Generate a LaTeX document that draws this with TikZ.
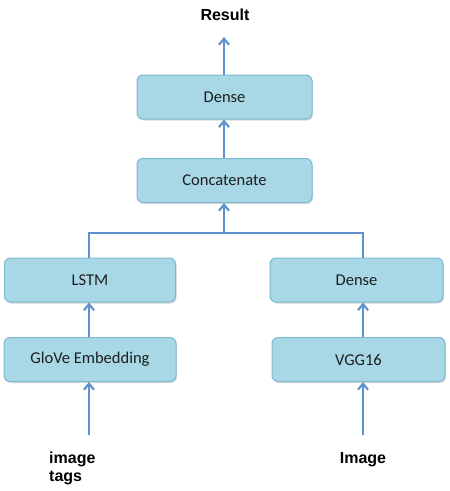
\documentclass[tikz,border=0pt]{standalone}
\usepackage{fontspec}
\setmainfont{Carlito}
\newfontfamily\lblfont{Liberation Sans}
\usetikzlibrary{arrows.meta,shadows}
\definecolor{boxfill}{RGB}{168,216,230}
\definecolor{boxline}{RGB}{125,185,208}
\definecolor{arrcol}{RGB}{95,145,205}
\definecolor{txt}{RGB}{30,30,30}
\tikzset{
  layer/.style={draw=boxline, line width=1pt, fill=boxfill, rounded corners=6pt,
    minimum height=44pt, text=txt, font=\fontsize{16.5}{18}\selectfont,
    drop shadow={shadow xshift=1pt, shadow yshift=-1.5pt, fill=black!30, opacity=0.5}},
  lbl/.style={font=\lblfont\bfseries\fontsize{16}{18}\selectfont, inner sep=0pt},
  arr/.style={draw=arrcol, line width=2.4pt, -{Straight Barb[length=6pt,width=10pt,line width=2.2pt]}},
  link/.style={draw=arrcol, line width=2.4pt}
}
\begin{document}
\begin{tikzpicture}[x=1pt,y=-1pt]
\useasboundingbox (0,0) rectangle (450,491);
\node[layer, minimum width=175pt] (dense1) at (224.5,97) {Dense};
\node[layer, minimum width=175pt] (concat) at (224.5,180.5) {Concatenate};
\node[layer, minimum width=171pt] (lstm) at (90,280) {LSTM};
\node[layer, minimum width=173pt] (dense2) at (356.5,280) {Dense};
\node[layer, minimum width=172pt] (glove) at (90,359.5) {GloVe Embedding};
\node[layer, minimum width=173pt] (vgg) at (358.5,359.5) {VGG16};
\node[lbl] (result) at (225,15) {Result};
\node[lbl, align=left, anchor=north west] (tags) at (49,452) {image\\tags};
\node[lbl, anchor=north] (image) at (363,452) {Image};
\coordinate (top) at (224,37);
\coordinate (join) at (224,233);
\coordinate (lx) at (89,0);
\coordinate (rx) at (363,0);
\coordinate (inL) at (89,435);
\coordinate (inR) at (363,435);
\draw[arr] (dense1.north -| top) -- (top);
\draw[arr] (concat.north -| top) -- (dense1.south -| top);
\draw[arr] (join) -- (concat.south -| join);
\draw[link] (lstm.north -| lx) |- (join) -| (dense2.north -| rx);
\draw[arr] (glove.north -| lx) -- (lstm.south -| lx);
\draw[arr] (vgg.north -| rx) -- (dense2.south -| rx);
\draw[arr] (inL) -- (glove.south -| inL);
\draw[arr] (inR) -- (vgg.south -| inR);
\end{tikzpicture}
\end{document}
